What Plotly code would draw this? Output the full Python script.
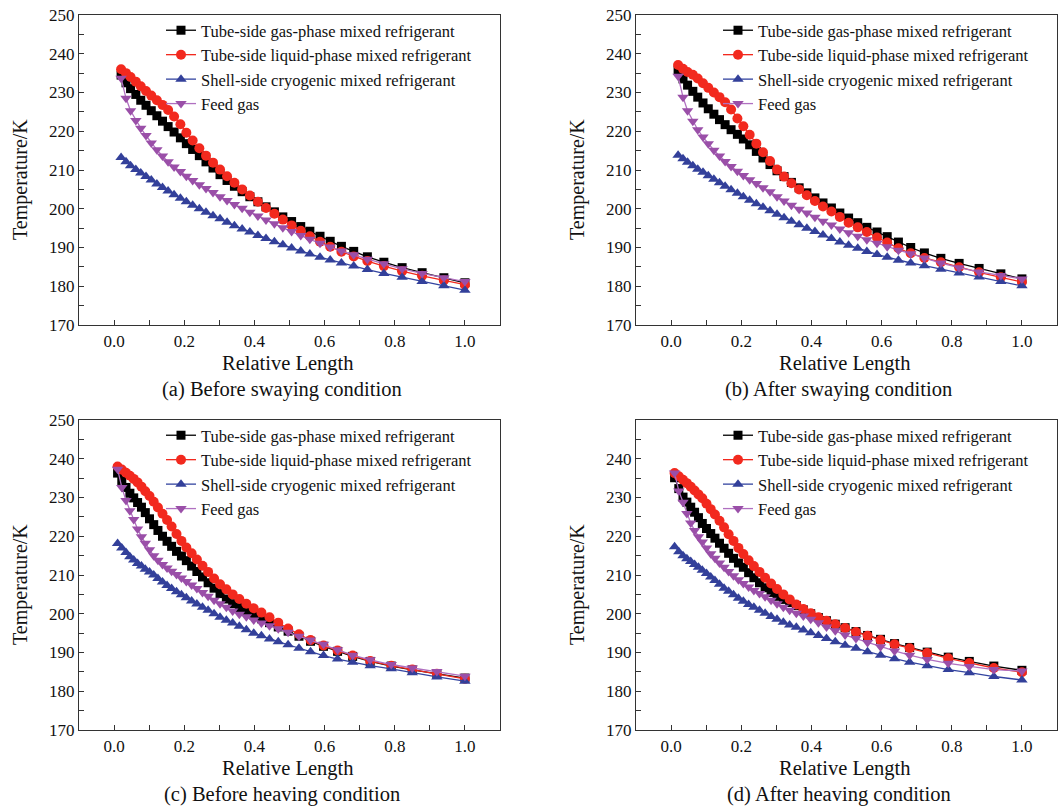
import plotly.graph_objects as go

W, H = 1058, 810

SERIES = ["Tube-side gas-phase mixed refrigerant",
          "Tube-side liquid-phase mixed refrigerant",
          "Shell-side cryogenic mixed refrigerant",
          "Feed gas"]

CAPTIONS = ["(a) Before swaying condition", "(b) After swaying condition",
            "(c) Before heaving condition", "(d) After heaving condition"]

Y_TICKS_FULL = [170, 180, 190, 200, 210, 220, 230, 240, 250]
Y_TICKS_D = [170, 180, 190, 200, 210, 220, 230, 240]
X_TICKS = [0.0, 0.2, 0.4, 0.6, 0.8, 1.0]

# ---------- panel (a) / (b) relative-length positions ----------
x_ab = [0.02, 0.034, 0.047, 0.062, 0.076, 0.091, 0.106, 0.122, 0.138, 0.154,
        0.171, 0.189, 0.206, 0.224, 0.243, 0.262, 0.282, 0.302, 0.322, 0.343,
        0.365, 0.387, 0.41, 0.433, 0.457, 0.481, 0.506, 0.532, 0.558, 0.587,
        0.616, 0.648, 0.683, 0.722, 0.769, 0.821, 0.878, 0.94, 1.0]

a_gas = [234.5, 232.5, 231.0, 229.5, 228.0, 226.7, 225.3, 224.0, 222.6, 221.2,
         219.8, 218.3, 216.8, 215.3, 213.7, 212.1, 210.5, 208.8, 207.3, 205.8,
         204.4, 203.1, 201.8, 200.5, 199.2, 197.9, 196.7, 195.4, 194.2, 192.9,
         191.6, 190.3, 189.0, 187.6, 186.2, 184.8, 183.5, 182.2, 180.9]
a_liq = [236.0, 235.0, 234.0, 232.8, 231.6, 230.4, 229.2, 228.0, 226.8, 225.5,
         223.8, 221.8, 219.6, 217.6, 215.6, 213.7, 211.9, 210.1, 208.4, 206.7,
         205.0, 203.4, 201.8, 200.2, 198.7, 197.2, 195.7, 194.3, 192.9, 191.5,
         190.2, 188.9, 187.7, 186.5, 185.2, 183.9, 182.7, 181.5, 180.4]
a_shell = [213.2, 212.1, 211.1, 210.1, 209.2, 208.3, 207.4, 206.4, 205.5, 204.6,
           203.6, 202.7, 201.8, 200.9, 200.0, 199.1, 198.2, 197.4, 196.5, 195.6,
           194.8, 194.0, 193.1, 192.3, 191.5, 190.7, 189.9, 189.1, 188.3, 187.5,
           186.8, 186.0, 185.2, 184.3, 183.3, 182.3, 181.2, 180.1, 179.0]
a_feed = [233.7, 228.5, 225.3, 222.8, 220.8, 218.9, 217.0, 215.2, 213.6, 212.1,
          210.8, 209.6, 208.4, 207.3, 206.2, 205.2, 204.2, 203.1, 202.1, 201.1,
          200.1, 199.1, 198.1, 197.1, 196.1, 195.1, 194.1, 193.1, 192.1, 191.1,
          190.1, 189.1, 188.1, 187.0, 185.8, 184.5, 183.3, 182.2, 181.2]

b_gas = [235.8, 233.5, 231.9, 230.3, 228.8, 227.3, 225.8, 224.4, 223.0, 221.7,
         220.4, 219.2, 218.0, 216.5, 214.8, 213.1, 211.4, 209.8, 208.3, 206.8,
         205.4, 204.1, 202.8, 201.5, 200.2, 198.9, 197.6, 196.4, 195.2, 194.0,
         192.8, 191.4, 190.0, 188.6, 187.2, 185.9, 184.6, 183.2, 181.9]
b_liq = [237.1, 236.1, 235.3, 234.6, 233.6, 232.4, 231.2, 230.0, 228.8, 227.5,
         225.6, 223.3, 221.3, 219.1, 216.8, 214.6, 212.3, 210.1, 208.3, 206.6,
         205.0, 203.5, 202.0, 200.6, 199.3, 197.9, 196.4, 195.2, 194.0, 192.6,
         191.3, 189.8, 188.5, 187.3, 186.2, 184.9, 183.6, 182.3, 181.1]
b_shell = [213.8, 212.9, 212.0, 211.1, 210.2, 209.4, 208.5, 207.6, 206.7, 205.8,
           204.9, 204.0, 203.1, 202.2, 201.3, 200.4, 199.5, 198.6, 197.7, 196.8,
           195.9, 195.0, 194.1, 193.2, 192.3, 191.4, 190.6, 189.8, 189.0, 188.2,
           187.5, 186.7, 186.0, 185.3, 184.4, 183.4, 182.4, 181.2, 180.1]
b_feed = [234.2, 228.8, 225.3, 222.6, 220.4, 218.5, 216.8, 215.1, 213.6, 212.2,
          210.9, 209.7, 208.6, 207.5, 206.5, 205.4, 204.4, 203.1, 202.0, 200.9,
          199.9, 198.9, 197.8, 196.8, 195.8, 194.8, 193.8, 192.9, 192.0, 191.1,
          190.2, 189.3, 188.4, 187.3, 186.0, 184.8, 183.7, 182.8, 181.9]

# ---------- panel (c) / (d) relative-length positions ----------
x_cd = [0.01, 0.022, 0.034, 0.045, 0.056, 0.067, 0.078, 0.089, 0.101, 0.113,
        0.125, 0.138, 0.151, 0.164, 0.178, 0.192, 0.206, 0.221, 0.236, 0.252,
        0.268, 0.285, 0.302, 0.32, 0.338, 0.357, 0.377, 0.398, 0.42, 0.443,
        0.468, 0.496, 0.527, 0.56, 0.597, 0.637, 0.68, 0.73, 0.79, 0.85,
        0.92, 1.0]

c_gas = [236.3, 234.4, 232.6, 231.1, 229.9, 228.7, 227.5, 226.1, 224.5, 223.0,
         221.5, 220.0, 218.7, 217.4, 216.1, 214.9, 213.7, 212.3, 210.9, 209.5,
         208.0, 206.6, 205.2, 203.8, 202.6, 201.6, 200.7, 199.7, 198.7, 197.7,
         196.6, 195.5, 194.2, 192.9, 191.6, 190.3, 189.0, 187.7, 186.5, 185.5,
         184.5, 183.4]
c_liq = [238.0, 237.2, 236.4, 235.6, 234.8, 233.9, 232.8, 231.6, 230.4, 228.9,
         227.4, 225.8, 224.2, 222.5, 220.6, 218.8, 217.1, 215.6, 214.0, 212.4,
         210.8, 209.1, 207.6, 206.3, 205.0, 203.8, 202.6, 201.4, 200.3, 199.1,
         197.7, 196.2, 194.7, 193.2, 191.8, 190.5, 189.2, 187.8, 186.6, 185.6,
         184.5, 183.2]
c_shell = [218.1, 217.0, 215.8, 214.7, 213.9, 213.0, 212.3, 211.5, 210.8, 210.0,
           209.1, 208.2, 207.3, 206.5, 205.7, 204.9, 204.1, 203.3, 202.5, 201.7,
           200.9, 200.0, 199.1, 198.3, 197.6, 196.8, 195.9, 195.0, 194.3, 193.5,
           192.8, 192.0, 191.1, 190.2, 189.2, 188.3, 187.5, 186.6, 185.8, 184.8,
           183.7, 182.6]
c_feed = [237.3, 232.6, 229.2, 226.6, 224.3, 221.9, 219.9, 218.2, 216.5, 215.0,
          213.8, 212.7, 211.8, 211.0, 210.1, 209.2, 208.3, 207.4, 206.5, 205.5,
          204.5, 203.5, 202.6, 201.7, 200.7, 199.9, 199.2, 198.4, 197.6, 196.9,
          196.1, 195.2, 194.2, 193.2, 192.1, 190.7, 189.3, 188.1, 186.9, 186.0,
          185.1, 183.9]

d_gas = [235.1, 232.3, 230.1, 228.8, 227.5, 226.2, 224.8, 223.3, 222.0, 220.7,
         219.5, 218.2, 216.9, 215.6, 214.3, 213.1, 212.0, 210.6, 209.3, 208.0,
         206.7, 205.5, 204.5, 203.7, 202.9, 202.1, 201.0, 200.0, 199.0, 198.2,
         197.3, 196.4, 195.4, 194.4, 193.4, 192.3, 191.3, 190.1, 188.8, 187.7,
         186.5, 185.4]
d_liq = [236.3, 235.5, 234.6, 233.7, 232.8, 231.8, 230.8, 229.8, 228.4, 227.0,
         225.6, 224.0, 222.3, 220.5, 218.8, 217.0, 215.4, 213.8, 212.3, 210.8,
         209.3, 207.8, 206.4, 205.0, 203.7, 202.4, 201.2, 200.1, 199.1, 198.2,
         197.3, 196.3, 195.3, 194.3, 193.2, 192.1, 191.1, 189.9, 188.5, 187.3,
         186.0, 184.9]
d_shell = [217.3, 216.0, 215.0, 214.2, 213.5, 212.7, 212.0, 211.2, 210.4, 209.5,
           208.6, 207.6, 206.6, 205.8, 204.9, 204.0, 203.2, 202.4, 201.7, 200.9,
           200.1, 199.3, 198.6, 197.8, 197.1, 196.5, 195.8, 195.1, 194.4, 193.6,
           192.8, 191.9, 191.1, 190.2, 189.3, 188.4, 187.5, 186.6, 185.6, 184.8,
           183.8, 182.9]
d_feed = [236.3, 231.7, 228.8, 225.9, 223.4, 221.5, 219.9, 218.5, 217.0, 215.5,
          214.3, 213.1, 212.0, 210.9, 209.8, 208.8, 207.8, 206.9, 206.0, 205.2,
          204.4, 203.5, 202.6, 201.7, 200.9, 200.1, 199.4, 198.6, 197.7, 196.6,
          195.6, 194.5, 193.6, 192.6, 191.5, 190.4, 189.3, 188.2, 187.2, 186.4,
          185.6, 185.2]

PANELS = [
    (x_ab, [a_gas, a_liq, a_shell, a_feed]),
    (x_ab, [b_gas, b_liq, b_shell, b_feed]),
    (x_cd, [c_gas, c_liq, c_shell, c_feed]),
    (x_cd, [d_gas, d_liq, d_shell, d_feed]),
]

# ---------- styling ----------
FONT = "Liberation Serif, Times New Roman, serif"
LINE_COLORS = ["#000000", "#F2291E", "#3344A0", "#B070C0"]
MARKER_COLORS = ["#000000", "#F2291E", "#33409A", "#9A4FA8"]
SYMBOLS = ["square", "circle", "triangle-up", "triangle-down"]
SIZES = [9, 10, 10, 10]

# pixel boxes of the four plot areas: (left, right, top, bottom)
BOXES = [(79, 500, 15, 325), (636, 1057, 15, 325),
         (79, 500, 420, 730), (636, 1057, 420, 730)]


def px(xp):
    return xp / W


def py(yp):
    return 1 - yp / H


fig = go.Figure()
legend_names = ["legend", "legend2", "legend3", "legend4"]

for i, (xs, ys_list) in enumerate(PANELS):
    xa = "x" if i == 0 else f"x{i+1}"
    ya = "y" if i == 0 else f"y{i+1}"
    for k, ys in enumerate(ys_list):
        fig.add_trace(go.Scatter(
            x=xs, y=ys, mode="lines+markers", name=SERIES[k],
            xaxis=xa, yaxis=ya, legend=legend_names[i],
            line=dict(color=LINE_COLORS[k], width=1.3),
            marker=dict(symbol=SYMBOLS[k], size=SIZES[k], color=MARKER_COLORS[k],
                        line=dict(width=0)),
        ))

layout = dict(
    width=W, height=H,
    margin=dict(l=0, r=0, t=0, b=0),
    paper_bgcolor="white", plot_bgcolor="white",
    font=dict(family=FONT, size=17, color="#111111"),
    showlegend=True,
)

annotations = []
for i, (l, r, t, b) in enumerate(BOXES):
    sx = "" if i == 0 else str(i + 1)
    yt = Y_TICKS_D if i == 3 else Y_TICKS_FULL
    layout[f"xaxis{sx}"] = dict(
        domain=[px(l), px(r)], range=[-0.1, 1.1], anchor=f"y{sx}",
        tickvals=X_TICKS, tickformat=".1f", ticks="inside", ticklen=5,
        tickcolor="#333333", showline=True, linecolor="#333333", linewidth=1.2,
        mirror=True, showgrid=False, zeroline=False, automargin=False,
        tickfont=dict(family=FONT, size=17, color="#111111"),
        minor=dict(dtick=0.1, tick0=0, ticks="inside", ticklen=5, tickcolor="#333333"),
    )
    layout[f"yaxis{sx}"] = dict(
        domain=[py(b), py(t)], range=[170, 250], anchor=f"x{sx}",
        tickvals=yt, ticks="inside", ticklen=5,
        tickcolor="#333333", showline=True, linecolor="#333333", linewidth=1.2,
        mirror=True, showgrid=False, zeroline=False, automargin=False,
        tickfont=dict(family=FONT, size=17, color="#111111"),
        minor=dict(dtick=5, tick0=0, ticks="inside", ticklen=5, tickcolor="#333333"),
    )
    lname = legend_names[i]
    layout[lname] = dict(
        x=px(l + 82), y=py(t - 2), xanchor="left", yanchor="top",
        bgcolor="rgba(0,0,0,0)", borderwidth=0,
        font=dict(family=FONT, size=16.5, color="#111111"),
        tracegroupgap=0, itemwidth=30,
    )
    cx = (l + r) / 2
    # y-axis title
    annotations.append(dict(
        text="Temperature/K", x=px(l - 59), y=py(t + 165), xref="paper", yref="paper",
        textangle=-90, showarrow=False, xanchor="center", yanchor="middle",
        font=dict(family=FONT, size=20, color="#111111"),
    ))
    # x-axis title
    annotations.append(dict(
        text="Relative Length", x=px(cx - 2), y=py(b + 38), xref="paper", yref="paper",
        showarrow=False, xanchor="center", yanchor="middle",
        font=dict(family=FONT, size=20.5, color="#111111"),
    ))
    # caption
    annotations.append(dict(
        text=CAPTIONS[i], x=px(cx - 8), y=py(b + 64), xref="paper", yref="paper",
        showarrow=False, xanchor="center", yanchor="middle",
        font=dict(family=FONT, size=20.5, color="#111111"),
    ))

layout["annotations"] = annotations
fig.update_layout(**layout)

fig.write_html("out.html")
